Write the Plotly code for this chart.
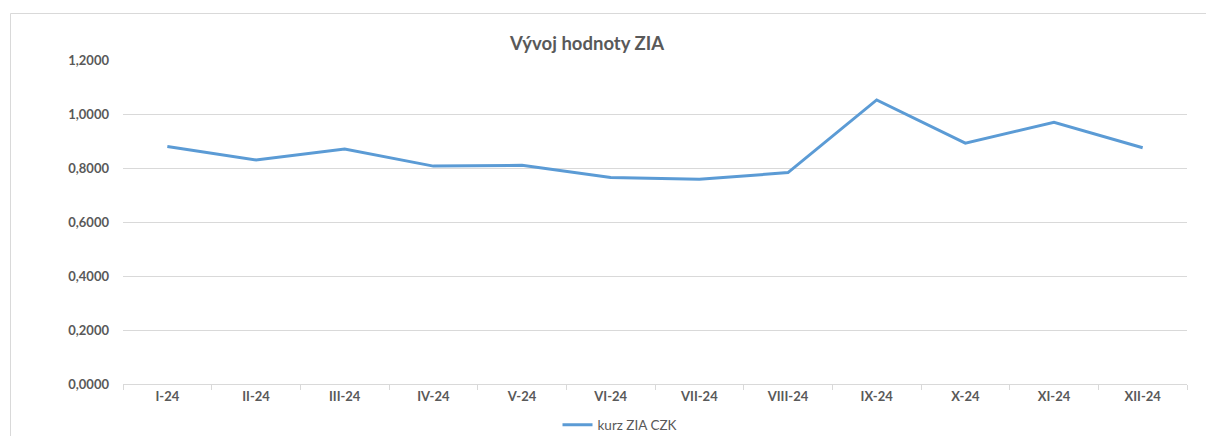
import plotly.graph_objects as go

months = ["I-24", "II-24", "III-24", "IV-24", "V-24", "VI-24",
          "VII-24", "VIII-24", "IX-24", "X-24", "XI-24", "XII-24"]
kurz = [0.880, 0.830, 0.870, 0.807, 0.810, 0.765,
        0.758, 0.783, 1.052, 0.892, 0.969, 0.875]
y_ticks = [0, 0.2, 0.4, 0.6, 0.8, 1.0, 1.2]
y_tick_labels = ["0,0000", "0,2000", "0,4000", "0,6000", "0,8000", "1,0000", "1,2000"]

FONT = "Lato"
GREY = "#595959"
GRID = "#d9d9d9"

W, H = 1206, 436
PL, PR, PT, PB = 123, 1187, 60, 384  # plot area in px
pw, ph = PR - PL, PB - PT

fig = go.Figure()
fig.add_trace(go.Scatter(
    x=months, y=kurz, mode="lines", name="kurz ZIA CZK",
    line=dict(color="#5B9BD5", width=3),
))

bx0 = (10.5 - PL) / pw
by1 = 1 + (PT - 13.5) / ph
bx1 = (1210 - PL) / pw
border_left = f"M {bx0},-0.5 L {bx0},{by1}"
border_top = f"M {bx0},{by1} L {bx1},{by1}"

fig.update_layout(
    width=W, height=H,
    margin=dict(l=PL, r=W - PR, t=PT, b=H - PB, autoexpand=False),
    paper_bgcolor="white", plot_bgcolor="white",
    font=dict(family=FONT, color=GREY),
    title=dict(text="<b>Vývoj hodnoty ZIA</b>", x=587 / W, xanchor="center",
               y=1 - 44 / H, yanchor="middle",
               font=dict(size=18.5, color=GREY, family=FONT)),
    showlegend=True,
    legend=dict(orientation="h", x=(620 - PL) / pw, xanchor="center",
                yref="container", y=1 - 425 / H, yanchor="middle",
                font=dict(size=13.5, color=GREY, family=FONT),
                bgcolor="rgba(0,0,0,0)"),
    xaxis=dict(
        type="category", range=[-0.5, 11.5],
        showgrid=False, showline=True, linecolor=GRID, linewidth=1,
        ticks="outside", tickson="boundaries", ticklen=5, tickcolor=GRID,
        tickfont=dict(size=13, color=GREY, family=FONT, weight="bold"),
        fixedrange=True,
    ),
    yaxis=dict(
        range=[0, 1.2], tickvals=y_ticks, ticktext=y_tick_labels,
        showgrid=True, gridcolor=GRID, gridwidth=1,
        showline=False, zeroline=False, ticks="",
        ticklabelstandoff=13,
        tickfont=dict(size=13, color=GREY, family=FONT, weight="bold"),
        fixedrange=True,
    ),
    shapes=[
        dict(type="path", xref="paper", yref="paper", path=border_left,
             line=dict(color=GRID, width=1), layer="below"),
        dict(type="path", xref="paper", yref="paper", path=border_top,
             line=dict(color=GRID, width=1), layer="below"),
    ],
)

fig.write_html(
    "out.html",
    config={"displayModeBar": False},
    post_script=(
        "document.documentElement.style.overflow='hidden';"
        "document.body.style.margin='0';"
        "document.body.style.overflow='hidden';"
    ),
)
